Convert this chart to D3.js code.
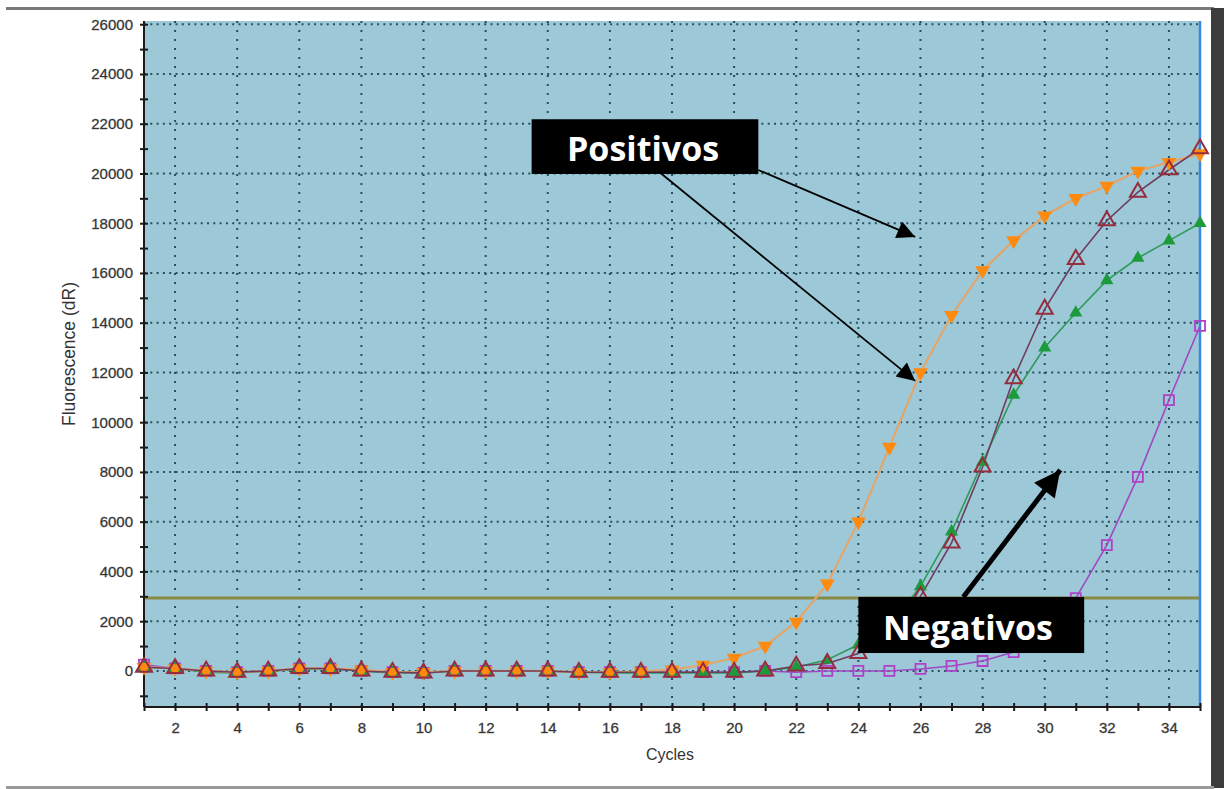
<!DOCTYPE html>
<html><head><meta charset="utf-8">
<script src="https://cdn.jsdelivr.net/npm/d3@7"></script>
<style>body{margin:0;background:#fff}svg{display:block}</style>
</head><body>
<script>
const cycles = d3.range(1, 36);
const orangeVals = [150,100,0,-50,0,100,100,50,-50,-50,0,0,0,0,-50,-50,-30,50,240,520,1000,1970,3500,6000,9000,12000,14300,16100,17300,18300,19000,19500,20100,20450,20800];
const brownVals  = [150,100,0,-50,0,100,100,0,-50,-80,0,0,0,0,-50,-50,-50,-50,-50,-50,0,200,300,700,1500,3000,5150,8200,11750,14550,16550,18100,19250,20150,21000];
const greenVals  = [150,100,-50,-80,0,50,100,0,-80,-80,0,0,0,0,-50,-80,-80,-80,-80,-80,0,150,450,1050,1800,3400,5600,8400,11100,13000,14400,15700,16600,17300,18000];
const purpleVals = [250,100,0,-50,0,100,100,0,-50,-80,0,0,0,0,-50,-50,-50,-50,-50,-50,0,-50,0,0,0,80,200,400,760,1600,2930,5060,7800,10890,13870];
const xTicks = d3.range(2, 35, 2);
const yTicks = d3.range(0, 26001, 2000);
const threshold = 2930;
const labelsText = {x: "Cycles", y: "Fluorescence (dR)", pos: "Positivos", neg: "Negativos"};

const W = 1224, H = 789;
const svg = d3.select("body").append("svg").attr("width", W).attr("height", H);
const L = 144, R = 1200, T = 21, B = 707;
const x = d3.scaleLinear().domain([1, 35]).range([L, R]);
const y = d3.scaleLinear().domain([-1450, 26130]).range([B, T]);

// frame
svg.append("rect").attr("x", 6).attr("y", 7).attr("width", 1208).attr("height", 3).attr("fill", "#7a7a7a");
svg.append("rect").attr("x", 1211).attr("y", 8).attr("width", 13).attr("height", 780).attr("fill", "#3c3c3c");
svg.append("rect").attr("x", 6).attr("y", 786).attr("width", 1208).attr("height", 3).attr("fill", "#9a9a9a");

// plot bg
svg.append("rect").attr("x", L).attr("y", T).attr("width", R - L).attr("height", B - T).attr("fill", "#9cc8d7");

// grid
const grid = svg.append("g");
grid.selectAll("line.h").data(yTicks).join("line")
  .attr("x1", L).attr("x2", R).attr("y1", d => y(d)).attr("y2", d => y(d))
  .attr("stroke", "#26505f").attr("stroke-width", 2).attr("stroke-dasharray", "2,4.3");
grid.selectAll("line.v").data(xTicks).join("line")
  .attr("y1", T).attr("y2", B).attr("x1", d => x(d)).attr("x2", d => x(d))
  .attr("stroke", "#26505f").attr("stroke-width", 2).attr("stroke-dasharray", "2,7");

// threshold
svg.append("line").attr("x1", L).attr("x2", R).attr("y1", y(threshold)).attr("y2", y(threshold))
  .attr("stroke", "#8a8a44").attr("stroke-width", 3);

// right blue line
svg.append("line").attr("x1", x(35)).attr("x2", x(35)).attr("y1", T).attr("y2", B)
  .attr("stroke", "#3a86e0").attr("stroke-width", 2.5);

// axes
const yAxisMinor = d3.axisLeft(y).tickValues(d3.range(-1000, 26001, 1000)).tickSize(4).tickFormat("");
const yAx = svg.append("g").attr("transform", `translate(${L},0)`).call(yAxisMinor);
yAx.selectAll("line").attr("x1", -4).attr("x2", 4).attr("stroke", "#1a1a1a").attr("stroke-width", 2);
yAx.select(".domain").remove();
const yLab = svg.append("g").attr("transform", `translate(${L},0)`)
  .call(d3.axisLeft(y).tickValues(yTicks).tickSize(0).tickPadding(11).tickFormat(d3.format("d")));
yLab.select(".domain").remove();
yLab.selectAll("text").attr("font-family", "Liberation Sans, Arial, sans-serif").attr("font-size", 15).attr("fill", "#2a2a2a")
  .attr("stroke", "#555").attr("stroke-width", 0.35);

const xAx = svg.append("g").attr("transform", `translate(0,${B})`)
  .call(d3.axisBottom(x).tickValues(d3.range(1, 36)).tickSize(4).tickFormat(""));
xAx.selectAll("line").attr("y1", -4).attr("y2", 4).attr("stroke", "#1a1a1a").attr("stroke-width", 2);
xAx.select(".domain").remove();
const xLab = svg.append("g").attr("transform", `translate(0,${B})`)
  .call(d3.axisBottom(x).tickValues(xTicks).tickSize(0).tickPadding(15));
xLab.select(".domain").remove();
xLab.selectAll("text").attr("font-family", "Liberation Sans, Arial, sans-serif").attr("font-size", 15).attr("fill", "#2a2a2a")
  .attr("stroke", "#555").attr("stroke-width", 0.35);

svg.append("line").attr("x1", L).attr("x2", L).attr("y1", T).attr("y2", B).attr("stroke", "#1a1a1a").attr("stroke-width", 2);
svg.append("line").attr("x1", L).attr("x2", R).attr("y1", B).attr("y2", B).attr("stroke", "#1a1a1a").attr("stroke-width", 2);

// titles
svg.append("text").attr("x", 670).attr("y", 760).attr("text-anchor", "middle")
  .attr("font-family", "Liberation Sans, Arial, sans-serif").attr("font-size", 16).attr("fill", "#333").text(labelsText.x);
svg.append("text").attr("transform", "translate(75,354) rotate(-90)").attr("text-anchor", "middle")
  .attr("font-family", "Liberation Sans, Arial, sans-serif").attr("font-size", 17.5).attr("fill", "#333").text(labelsText.y);

// series
const series = [
  {vals: purpleVals, line: "#a048c4", width: 1.6, sym: d3.symbolSquare, size: 100, fill: "none", stroke: "#b040c8", sw: 1.8, rot: 0},
  {vals: greenVals, line: "#2f9a5a", width: 1.6, sym: d3.symbolTriangle, size: 75, fill: "#1c9a3c", stroke: "none", sw: 0, rot: 0},
  {vals: orangeVals, line: "#e2a66c", width: 2.2, sym: d3.symbolTriangle, size: 95, fill: "#ff8a10", stroke: "none", sw: 0, rot: 180},
  {vals: brownVals, line: "#6f3c5c", width: 1.6, sym: d3.symbolTriangle, size: 110, fill: "none", stroke: "#962c3e", sw: 2, rot: 0},
];
const lineGen = d3.line().x((d, i) => x(cycles[i])).y(d => y(d));
series.forEach(s => {
  svg.append("path").attr("d", lineGen(s.vals)).attr("fill", "none").attr("stroke", s.line).attr("stroke-width", s.width);
});
series.forEach(s => {
  svg.append("g").selectAll("path").data(s.vals).join("path")
    .attr("transform", (d, i) => `translate(${x(cycles[i])},${y(d)}) rotate(${s.rot})`)
    .attr("d", d3.symbol(s.sym, s.size)).attr("fill", s.fill).attr("stroke", s.stroke).attr("stroke-width", s.sw);
});

// annotations
const defs = svg.append("defs");
defs.append("marker").attr("id", "ah").attr("viewBox", "0 0 10 10").attr("refX", 10).attr("refY", 5)
  .attr("markerWidth", 24).attr("markerHeight", 18).attr("markerUnits", "userSpaceOnUse").attr("orient", "auto")
  .append("path").attr("d", "M0,0L10,5L0,10z").attr("fill", "#000");
defs.append("marker").attr("id", "ahb").attr("viewBox", "0 0 10 10").attr("refX", 10).attr("refY", 5)
  .attr("markerWidth", 30).attr("markerHeight", 26).attr("markerUnits", "userSpaceOnUse").attr("orient", "auto")
  .append("path").attr("d", "M0,0L10,5L0,10z").attr("fill", "#000");

const arrows = [
  {x1: 20.78, y1: 20140, x2: 25.83, y2: 17450, w: 1.8, m: "ah"},
  {x1: 17.63, y1: 20020, x2: 25.83, y2: 11660, w: 1.8, m: "ah"},
  {x1: 27.38, y1: 2975, x2: 30.5, y2: 8080, w: 5, m: "ahb"},
];
svg.selectAll("line.arr").data(arrows).join("line")
  .attr("x1", d => x(d.x1)).attr("y1", d => y(d.y1)).attr("x2", d => x(d.x2)).attr("y2", d => y(d.y2))
  .attr("stroke", "#000").attr("stroke-width", d => d.w).attr("marker-end", d => `url(#${d.m})`);

const boxes = [
  {x0: 13.48, x1: 20.78, y0: 22180, y1: 19980, t: labelsText.pos},
  {x0: 24.0, x1: 31.27, y0: 2975, y1: 720, t: labelsText.neg},
];
boxes.forEach(b => {
  svg.append("rect").attr("x", x(b.x0)).attr("y", y(b.y0)).attr("width", x(b.x1) - x(b.x0)).attr("height", y(b.y1) - y(b.y0)).attr("fill", "#000");
});
svg.append("text").attr("x", 567).attr("y", y(20500) ).attr("font-family", "Open Sans, sans-serif").attr("font-weight", "bold")
  .attr("font-size", 34).attr("fill", "#fff").text(boxes[0].t);
svg.append("text").attr("x", 883).attr("y", y(1250)).attr("font-family", "Open Sans, sans-serif").attr("font-weight", "bold")
  .attr("font-size", 34).attr("fill", "#fff").text(boxes[1].t);
</script>
</body></html>
